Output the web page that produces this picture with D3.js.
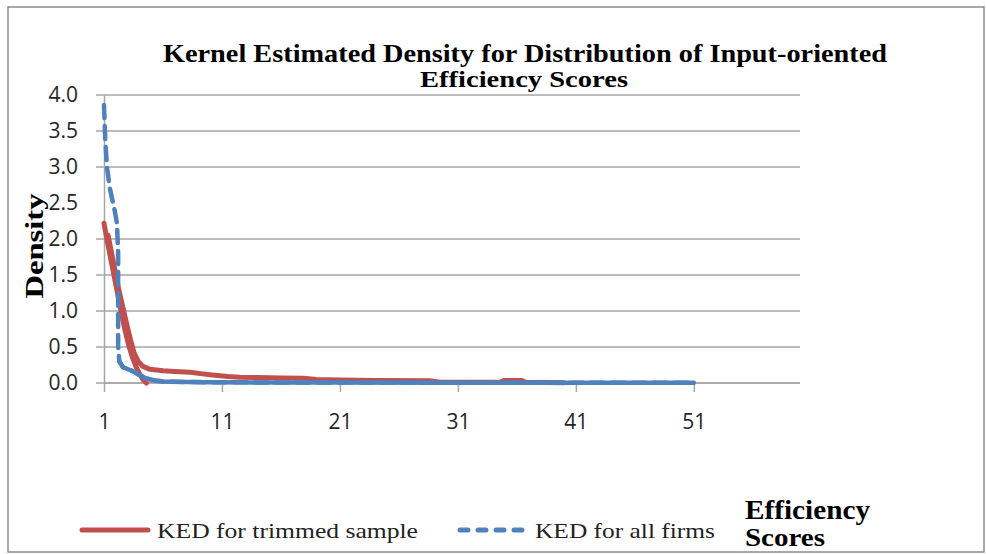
<!DOCTYPE html>
<html>
<head>
<meta charset="utf-8">
<script src="https://cdn.jsdelivr.net/npm/d3@7"></script>
<style>
  body { margin: 0; background: #fff; }
  svg { display: block; }
</style>
</head>
<body>
<div id="chart"></div>
<script>
// efficiency score (x) and kernel density (y); null breaks the line
var trimmedX = [1, 1.3, 1.6, 1.9, 2.2, 2.5, 2.8, 3.1, 3.4, 3.7, 4.0, 4.3, 4.6, null,
                1.35, 1.65, 1.95, 2.25, 2.6, 2.95, 3.25, 3.55, 3.9, 4.3, 4.9, 6, 7, 8.3, 9.2, 10.2, 11.5, 12.5, 14, 16, 17.9, 19, 21, 24, 28.6, 29.5, 34.6, 34.9, 36.4, 36.7, 40];
var trimmedY = [2.22, 1.95, 1.7, 1.45, 1.2, 0.95, 0.72, 0.52, 0.36, 0.23, 0.13, 0.05, 0.0, null,
                2.05, 1.8, 1.55, 1.3, 1.05, 0.8, 0.6, 0.42, 0.3, 0.23, 0.19, 0.17, 0.16, 0.15, 0.13, 0.11, 0.09, 0.08, 0.075, 0.07, 0.065, 0.05, 0.04, 0.035, 0.03, 0.012, 0.012, 0.035, 0.035, 0.012, 0.005];

var allX = [1, 1.1, 1.25, 1.5, 1.7, 1.9, 2.1, 2.2, 2.2, 2.2, 2.3, 2.6, 3.2, 3.6, 4.0, 4.5, 5.0, 5.5, 6.0, 8, 10, 15, 20, 30, 40, 51];
var allY = [3.86, 3.4, 3.0, 2.7, 2.55, 2.4, 2.22, 1.8, 1.0, 0.5, 0.3, 0.22, 0.18, 0.15, 0.11, 0.07, 0.045, 0.03, 0.02, 0.015, 0.01, 0.008, 0.006, 0.005, 0.004, 0.003];

var yTicks = [0, 0.5, 1.0, 1.5, 2.0, 2.5, 3.0, 3.5, 4.0];
var xTicks = [1, 11, 21, 31, 41, 51];
var noGridAt = [2.5];

var seriesNames = ["KED for trimmed sample", "KED for all firms"];
var titleLines = ["Kernel Estimated Density for Distribution of Input-oriented", "Efficiency Scores"];

var width = 986, height = 554;
var red = "#c0504d", blue = "#4f81bd", grid = "#a6a6a6";

var svg = d3.select("#chart").append("svg")
    .attr("width", width)
    .attr("height", height);

// outer frame
svg.append("rect")
    .attr("x", 8).attr("y", 7)
    .attr("width", 976).attr("height", 545)
    .attr("fill", "#fff")
    .attr("stroke", "#8c8c8c")
    .attr("stroke-width", 1.5);

var x = d3.scaleLinear().domain([1, 60]).range([104, 800]);
var y = d3.scaleLinear().domain([0, 4]).range([383, 95]);

// gridlines
svg.append("g")
    .selectAll("line")
    .data(yTicks.filter(function(d) { return noGridAt.indexOf(d) < 0; }))
    .enter().append("line")
      .attr("x1", 96).attr("x2", 800)
      .attr("y1", function(d) { return y(d); })
      .attr("y2", function(d) { return y(d); })
      .attr("stroke", grid)
      .attr("stroke-width", 1.5);

// y axis
var yAxis = svg.append("g")
    .attr("transform", "translate(104,0)")
    .call(d3.axisLeft(y).tickValues(yTicks).tickSize(0).tickPadding(26)
        .tickFormat(d3.format(".1f")));
yAxis.select(".domain").attr("stroke", grid).attr("stroke-width", 1.5);
yAxis.selectAll("text")
    .attr("font-family", "'Open Sans', sans-serif")
    .attr("font-size", 21)
    .attr("fill", "#262626");

// x axis
var xAxis = svg.append("g")
    .attr("transform", "translate(0,383)")
    .call(d3.axisBottom(x).tickValues(xTicks).tickSize(9).tickPadding(22)
        .tickFormat(d3.format("d")));
xAxis.select(".domain").attr("stroke", grid).attr("stroke-width", 1.5)
    .attr("d", "M104,0H800");
xAxis.selectAll(".tick line").attr("stroke", grid).attr("stroke-width", 1.5);
xAxis.selectAll("text")
    .attr("font-family", "'Open Sans', sans-serif")
    .attr("font-size", 21)
    .attr("fill", "#262626");

function points(xs, ys) {
    return xs.map(function(d, i) { return [d, ys[i]]; });
}

var line = d3.line()
    .defined(function(d) { return d[0] != null && d[1] != null; })
    .x(function(d) { return x(d[0]); })
    .y(function(d) { return y(d[1]); });

svg.append("path")
    .datum(points(trimmedX, trimmedY))
    .attr("d", line)
    .attr("fill", "none")
    .attr("stroke", red)
    .attr("stroke-width", 5)
    .attr("stroke-linejoin", "round")
    .attr("stroke-linecap", "round");

var allPts = points(allX, allY);
svg.append("path")
    .datum(allPts)
    .attr("d", line)
    .attr("fill", "none")
    .attr("stroke", blue)
    .attr("stroke-width", 4.5)
    .attr("stroke-dasharray", "13,8")
    .attr("stroke-linejoin", "round")
    .attr("stroke-linecap", "round");

// the tail is dense enough in the original that it reads as solid
svg.append("path")
    .datum(allPts.filter(function(d) { return d[0] >= 2.3; }))
    .attr("d", line)
    .attr("fill", "none")
    .attr("stroke", blue)
    .attr("stroke-width", 4.5)
    .attr("stroke-linejoin", "round")
    .attr("stroke-linecap", "round");

// title
svg.append("text")
    .attr("x", 525).attr("y", 62)
    .attr("text-anchor", "middle")
    .attr("font-family", "'Liberation Serif', serif")
    .attr("font-weight", "bold")
    .attr("font-size", 25)
    .attr("textLength", 724)
    .attr("lengthAdjust", "spacingAndGlyphs")
    .text(titleLines[0]);
svg.append("text")
    .attr("x", 524).attr("y", 87)
    .attr("text-anchor", "middle")
    .attr("font-family", "'Liberation Serif', serif")
    .attr("font-weight", "bold")
    .attr("font-size", 24)
    .attr("textLength", 208)
    .attr("lengthAdjust", "spacingAndGlyphs")
    .text(titleLines[1]);

// axis titles
svg.append("text")
    .attr("transform", "translate(43,246) rotate(-90)")
    .attr("text-anchor", "middle")
    .attr("font-family", "'Liberation Serif', serif")
    .attr("font-weight", "bold")
    .attr("font-size", 26)
    .attr("textLength", 105)
    .attr("lengthAdjust", "spacingAndGlyphs")
    .text("Density");

svg.append("text")
    .attr("x", 745).attr("y", 519)
    .attr("font-family", "'Liberation Serif', serif")
    .attr("font-weight", "bold")
    .attr("font-size", 27)
    .attr("textLength", 125)
    .attr("lengthAdjust", "spacingAndGlyphs")
    .text("Efficiency");
svg.append("text")
    .attr("x", 745).attr("y", 546)
    .attr("font-family", "'Liberation Serif', serif")
    .attr("font-weight", "bold")
    .attr("font-size", 25)
    .attr("textLength", 80)
    .attr("lengthAdjust", "spacingAndGlyphs")
    .text("Scores");

// legend
var legend = [
    { name: seriesNames[0], color: red, dash: null, x: 82, textW: 261 },
    { name: seriesNames[1], color: blue, dash: "8,10", x: 460, textW: 180 }
];
var lg = svg.append("g").selectAll("g")
    .data(legend)
    .enter().append("g")
      .attr("transform", function(d) { return "translate(" + d.x + ",530)"; });
lg.append("line")
    .attr("x1", 0).attr("x2", 66)
    .attr("stroke", function(d) { return d.color; })
    .attr("stroke-width", 5)
    .attr("stroke-linecap", "round")
    .attr("stroke-dasharray", function(d) { return d.dash; });
lg.append("text")
    .attr("x", 75).attr("y", 8)
    .attr("font-family", "'Liberation Serif', serif")
    .attr("font-size", 22)
    .attr("fill", "#222")
    .attr("textLength", function(d) { return d.textW; })
    .attr("lengthAdjust", "spacingAndGlyphs")
    .text(function(d) { return d.name; });
</script>
</body>
</html>
